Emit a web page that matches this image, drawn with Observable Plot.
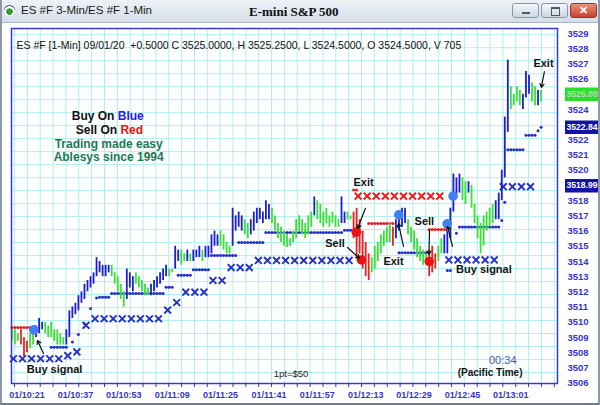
<!DOCTYPE html>
<html>
<head>
<meta charset="utf-8">
<script src="https://cdn.jsdelivr.net/npm/d3@7"></script>
<script src="https://cdn.jsdelivr.net/npm/@observablehq/plot@0.6"></script>
<style>
  body { margin: 0; background: #fff; overflow: hidden; }
  #wrap { position: relative; width: 600px; height: 405px; overflow: hidden; font-family: "Liberation Sans", Arial, sans-serif; background: #fff; }
  #chart { position: absolute; left: 0; top: 0; }
  #titlebar { position: absolute; left: 0; top: 0; width: 600px; height: 23px; box-sizing: border-box;
    background: linear-gradient(#eef2f7, #d5dee9); border-bottom: 1px solid #a9b5c4; }
  #icon { position: absolute; left: 4px; top: 5px; width: 11px; height: 11px; border-radius: 50%;
    background: radial-gradient(circle at 50% 60%, #2f9a3a 0 35%, #ffffff 40% 60%, #556 65%); }
  #t1 { position: absolute; left: 21px; top: 4px; font-size: 11.5px; color: #1a1a1a; font-family: "Liberation Sans", Arial, sans-serif; }
  #t2 { position: absolute; left: 249px; top: 4px; font-size: 13px; font-weight: bold; color: #111; font-family: "Liberation Serif", "Times New Roman", serif; }
  .btn { position: absolute; top: 3px; height: 15px; border-radius: 3px; box-sizing: border-box; }
  #bmin { left: 512px; width: 27px; background: linear-gradient(#f4f7fb, #cdd7e3); border: 1px solid #8897aa; }
  #bmax { left: 541px; width: 27px; background: linear-gradient(#f4f7fb, #cdd7e3); border: 1px solid #8897aa; }
  #bcls { left: 570px; width: 27px; background: linear-gradient(#e8917f, #c8412f); border: 1px solid #8a3a2c; color: #fff; font-weight: bold; font-size: 11px; text-align: center; line-height: 13px; }
  #bmin::after { content: ""; position: absolute; left: 9px; top: 8px; width: 8px; height: 2px; background: #556; }
  #bmax::after { content: ""; position: absolute; left: 9px; top: 3px; width: 7px; height: 6px; border: 1px solid #556; border-top-width: 2px; }
  #frameborder { position: absolute; left: 0; top: 0; width: 600px; height: 405px; box-sizing: border-box;
    border-left: 2px solid #8d99a8; border-right: 2px solid #8d99a8; border-bottom: 2px solid #6f7b8a; pointer-events: none; }
</style>
</head>
<body>
<div id="wrap">
  <div id="chart"></div>
  <div id="titlebar">
    <div id="icon"></div>
    <span id="t1">ES #F 3-Min/ES #F 1-Min</span>
    <span id="t2">E-mini S&amp;P 500</span>
    <div class="btn" id="bmin"></div>
    <div class="btn" id="bmax"></div>
    <div class="btn" id="bcls">✕</div>
  </div>
  <div id="frameborder"></div>
</div>
<script>
// ---------- DATA ----------
// 1-minute bars, first bar at minute 16 past 10:00
const barStart = 16;
const barHigh = [
  3509.5, 3509.5, 3509.25, 3509.5, 3509.0, 3508.75, 3509.25, 3509.5, 3509.75, 3510.25,
  3510.0, 3510.0, 3509.75, 3510.0, 3509.5, 3509.5, 3509.25, 3509.0, 3509.5, 3510.75,
  3511.0, 3511.25, 3511.75, 3512.0, 3512.5, 3512.75, 3513.0, 3513.25, 3514.25, 3514.0,
  3513.75, 3513.75, 3513.75, 3513.75, 3513.25, 3513.0, 3512.5, 3512.0, 3513.5, 3513.25,
  3513.0, 3513.25, 3513.0, 3512.75, 3512.5, 3512.25, 3512.5, 3512.75, 3513.0, 3513.25,
  3513.5, 3513.75, 3513.5, 3513.5, 3515.0, 3514.75, 3514.75, 3514.5, 3514.75, 3514.5,
  3514.75, 3514.75, 3515.0, 3514.75, 3515.0, 3515.0, 3515.75, 3516.0, 3515.75, 3516.0,
  3515.75, 3515.25, 3515.0, 3517.5, 3517.0, 3517.25, 3517.0, 3516.75, 3516.5, 3516.75,
  3517.25, 3517.5, 3517.5, 3517.25, 3518.0, 3517.75, 3517.5, 3517.0, 3516.5, 3516.25,
  3516.0, 3515.75, 3515.5, 3516.0, 3516.75, 3517.0, 3516.75, 3516.5, 3517.0, 3517.25,
  3518.25, 3518.0, 3517.75, 3517.25, 3517.5, 3517.0, 3517.25, 3517.0, 3516.75, 3518.25,
  3517.25, 3517.25, 3517.0, 3517.25, 3517.5, 3516.75, 3516.0, 3515.25, 3514.5, 3514.25,
  3515.0, 3515.25, 3515.75, 3516.0, 3516.25, 3516.5, 3516.25, 3516.75, 3517.25, 3517.5,
  3517.5, 3516.75, 3516.25, 3516.0, 3515.5, 3515.0, 3514.75, 3514.5, 3514.75, 3515.0,
  3514.5, 3515.0, 3515.5, 3515.75, 3516.0, 3517.5, 3519.75, 3519.5, 3519.75, 3519.5,
  3519.25, 3519.25, 3519.0, 3517.75, 3517.0, 3516.5, 3517.0, 3517.25, 3517.5, 3517.75,
  3518.0, 3518.5, 3520.0, 3523.5, 3527.25, 3525.5, 3525.0, 3525.5, 3525.25, 3525.0,
  3526.5, 3526.25, 3525.75, 3525.5, 3525.25, 3525.25
];
const barLow = [
  3508.75, 3508.5, 3508.75, 3508.5, 3507.75, 3508.0, 3508.25, 3508.5, 3509.0, 3509.25,
  3509.5, 3509.25, 3509.0, 3509.0, 3508.75, 3508.5, 3508.5, 3508.5, 3508.5, 3509.0,
  3510.25, 3510.5, 3510.75, 3511.25, 3511.5, 3512.0, 3512.25, 3512.5, 3513.0, 3513.25,
  3513.0, 3513.0, 3513.25, 3513.0, 3512.5, 3512.0, 3511.5, 3511.0, 3511.5, 3512.25,
  3512.0, 3512.5, 3512.25, 3512.0, 3511.75, 3511.75, 3511.75, 3512.0, 3512.25, 3512.5,
  3512.75, 3513.0, 3513.0, 3513.25, 3513.5, 3514.0, 3513.75, 3514.0, 3514.0, 3514.0,
  3514.0, 3514.25, 3514.25, 3514.0, 3514.25, 3514.25, 3514.5, 3515.0, 3515.0, 3515.0,
  3514.75, 3514.5, 3514.5, 3515.0, 3516.0, 3516.25, 3516.0, 3515.75, 3515.5, 3515.75,
  3516.0, 3516.5, 3516.75, 3516.5, 3516.75, 3516.75, 3516.5, 3516.0, 3515.5, 3515.25,
  3515.0, 3514.9, 3515.0, 3515.25, 3515.5, 3516.0, 3515.75, 3515.5, 3515.75, 3516.25,
  3517.0, 3516.75, 3516.5, 3516.25, 3516.5, 3516.25, 3516.5, 3516.25, 3516.25, 3516.5,
  3516.5, 3516.75, 3516.75, 3515.5, 3514.25, 3514.5, 3513.5, 3513.0, 3512.75, 3513.25,
  3513.5, 3514.0, 3514.5, 3515.0, 3515.25, 3515.25, 3515.0, 3515.5, 3516.0, 3516.25,
  3516.5, 3515.75, 3515.25, 3514.75, 3514.25, 3514.0, 3513.75, 3513.75, 3513.0, 3513.25,
  3513.5, 3514.0, 3514.5, 3514.5, 3514.5, 3515.5, 3517.25, 3518.25, 3518.5, 3518.0,
  3517.75, 3518.5, 3517.5, 3516.5, 3515.5, 3514.5, 3515.0, 3516.0, 3516.25, 3516.5,
  3516.75, 3516.75, 3518.0, 3519.5, 3522.5, 3524.0, 3524.25, 3524.5, 3524.25, 3524.0,
  3524.75, 3525.0, 3524.5, 3524.25, 3524.25, 3524.5
];
// b = blue (up), g = green, r = red
const barColor =
  "gggrrrggbb" + "bgggggggbb" + "bbbbbbbbbb" + "bbbgggggbb" + "bgggggbbbb" +
  "bbggbbggbg" + "bbbgbbbbbg" + "gggbbbbggb" + "bbbbbbgggg" + "gggggggggg" +
  "bggggggggb" + "bggrrrrrrg" + "ggggggrbbb" + "bgggggggrr" + "rggbbbbbbg" +
  "gbgggggggg" + "bbbbbggggb" + "bbggbg";

// Trailing stop (1-min dots): [fromMinute, toMinute, price]
const blueDotStops = [
  [29, 34, 3508.35], [36, 36, 3508.7], [38, 38, 3509.2], [40, 40, 3509.9], [42, 42, 3510.9],
  [44, 44, 3511.6], [45, 48, 3511.65], [49, 66, 3511.9], [67, 69, 3512.3], [71, 75, 3513.1],
  [76, 81, 3513.45], [82, 90, 3514.4], [91, 99, 3515.25], [100, 125, 3515.9], [126, 128, 3516.05],
  [144, 153, 3514.57], [160, 161, 3513.4], [163, 163, 3515.85], [164, 177, 3516.26],
  [178, 178, 3516.7], [179, 179, 3517.9], [180, 185, 3521.35], [186, 189, 3522.3],
  [190, 190, 3522.6], [191, 191, 3522.84]
];
const redDotStops = [
  [16, 23, 3509.65], [129, 130, 3518.7], [134, 142, 3516.5], [154, 159, 3516.1]
];
// 3-min stop (X marks): [fromMinute, toMinute, price], one mark every 3 minutes
const blueXStops = [
  [16.5, 31.5, 3507.6], [34.5, 34.5, 3507.8], [37.5, 37.5, 3508.05], [40.5, 40.5, 3509.8],
  [43.5, 64.5, 3510.23], [67.5, 67.5, 3510.8], [70.5, 70.5, 3511.3], [73.5, 79.5, 3511.98],
  [82.5, 85.5, 3512.75], [88.5, 94.5, 3513.6], [97.5, 127.5, 3514.07],
  [160.5, 175.5, 3514.1], [178.5, 187.5, 3518.92]
];
const redXStops = [[130.5, 157.5, 3518.3]];

// Signal dots
const sigMinute = [23.25, 129.9, 131.6, 143.95, 154.0, 159.95, 161.9];
const sigPrice  = [3509.5, 3515.93, 3514.1, 3517.07, 3514.0, 3516.48, 3518.3];
const sigSide   = ["buy", "sell", "sell", "buy", "sell", "buy", "buy"];

// Annotations
const noteText   = ["Buy signal", "Exit", "Sell", "Exit", "Sell", "Buy signal", "Exit"];
const noteMinute = [30.1, 132.3, 122.85, 142.2, 152.4, 172.1, 191.8];
const notePrice  = [3506.9, 3519.2, 3515.2, 3514.0, 3516.6, 3513.47, 3527.0];
const arrows = [ // [fromMinute, fromPrice, toMinute, toPrice]
  [26.46, 3507.95, 24.47, 3508.8], [132.9, 3517.49, 130.3, 3516.17], [126.98, 3514.92, 130.95, 3514.2],
  [145.5, 3514.99, 143.84, 3516.5], [154.1, 3516.04, 153.9, 3514.46], [161.7, 3514.99, 160.06, 3516.3],
  [192.1, 3526.5, 191.1, 3525.45]
];

// Axis labels
const timeMinutes = [21, 37, 53, 69, 85, 101, 117, 133, 149, 165, 181];
const timeLabels = ["01/10:21", "01/10:37", "01/10:53", "01/11:09", "01/11:25", "01/11:41",
                    "01/11:57", "01/12:13", "01/12:29", "01/12:45", "01/13:01"];
const priceLabels = [3506, 3507, 3508, 3509, 3510, 3511, 3512, 3513, 3514, 3515, 3516, 3517,
                     3518, 3520, 3521, 3522, 3524, 3526, 3527, 3528, 3529];
const lastValues = [3525.00, 3522.84, 3518.99];
const lastLabels = ["3525.00", "3522.84", "3518.99"];
const lastKinds = ["close", "stop", "stop"];

const infoLine = "ES #F [1-Min] 09/01/20  +0.5000 C 3525.0000, H 3525.2500, L 3524.5000, O 3524.5000, V 705";

// ---------- BUILD ----------
const colorOf = {b: "#1d1dd2", g: "#35e335", r: "#ee2020"};
const bars = barHigh.map((h, i) => ({m: barStart + i, hi: h, lo: barLow[i], c: colorOf[barColor[i]]}));

function expand(runs, step, color) {
  const out = [];
  for (const [a, b, p] of runs) for (let m = a; m <= b + 1e-9; m += step) out.push({m, p, c: color});
  return out;
}
const BLUE = "#2430cc", RED = "#ee1c1c";
const dotPts = [...expand(blueDotStops, 1, BLUE), ...expand(redDotStops, 1, RED)];
const dotRuns = [...blueDotStops.map(r => ({a: r[0], b: r[1], p: r[2], c: BLUE})),
                 ...redDotStops.map(r => ({a: r[0], b: r[1], p: r[2], c: RED}))];
const xPts = [...expand(blueXStops, 3, BLUE), ...expand(redXStops, 3, RED)];
const sigs = sigMinute.map((m, i) => ({m, p: sigPrice[i], c: sigSide[i] === "buy" ? "#3f80f2" : "#ee1111"}));
const notes = noteText.map((t, i) => ({t, m: noteMinute[i], p: notePrice[i]}));
const arrowData = arrows.map(a => ({x1: a[0], y1: a[1], x2: a[2], y2: a[3]}));
const boxes = lastValues.map((v, i) => ({p: v, label: lastLabels[i],
  bg: lastKinds[i] === "close" ? "#27e027" : "#1212a6", fg: lastKinds[i] === "close" ? "#c4d4c0" : "#ffffff"}));

const xDomain = [15.87, 196.43];
const yDomain = [3505.97, 3529.33];
const gridXTicks = d3.range(16.87, 196.4, 4.25);
const gridYTicks = d3.range(3506.69, 3529.3, 0.855);
const labelMap = new Map(timeMinutes.map((m, i) => [m, timeLabels[i]]));

const AX = "#3535c8";
const font = "Liberation Sans, Arial, sans-serif";

const chart = Plot.plot({
  width: 600, height: 405,
  marginLeft: 11, marginRight: 43, marginTop: 28, marginBottom: 22,
  style: {background: "white", fontFamily: font, overflow: "hidden"},
  x: {domain: xDomain, axis: null},
  y: {domain: yDomain, axis: null},
  color: {type: "identity"},
  marks: [
    Plot.gridX(gridXTicks, {stroke: "#aeeef2", strokeOpacity: 1, strokeWidth: 1}),
    Plot.gridY(gridYTicks, {stroke: "#aeeef2", strokeOpacity: 1, strokeWidth: 1}),
    Plot.axisX(gridXTicks, {anchor: "bottom", tickSize: 4, stroke: AX, tickFormat: () => ""}),
    Plot.axisX(timeMinutes, {anchor: "bottom", tickSize: 0, tickPadding: 8, tickFormat: d => labelMap.get(d),
      fill: AX, fontWeight: "bold", fontSize: 9}),
    Plot.axisY(priceLabels, {anchor: "right", tickSize: 0, tickPadding: 10, textAnchor: "start",
      tickFormat: d => String(d), fill: AX, fontWeight: "bold", fontSize: 9.5}),
    Plot.tickY(boxes, {y: "p", stroke: "bg", strokeWidth: 13.5, dx: 554}),
    Plot.text(boxes, {y: "p", text: "label", frameAnchor: "right", dx: 9, textAnchor: "start",
      fill: "fg", fontWeight: "bold", fontSize: 8.6}),
    // info line
    Plot.text([infoLine], {frameAnchor: "top-left", dx: 5, dy: 13, textAnchor: "start", fill: "#111", fontSize: 10.5}),
    // legend text block
    Plot.text(["Buy On "], {x: 51.0, y: 3523.54, textAnchor: "end", fontWeight: "bold", fontSize: 12, fill: "#111"}),
    Plot.text(["Blue"], {x: 51.0, y: 3523.54, textAnchor: "start", fontWeight: "bold", fontSize: 12, fill: "#2020ee"}),
    Plot.text(["Sell On "], {x: 51.9, y: 3522.62, textAnchor: "end", fontWeight: "bold", fontSize: 12, fill: "#111"}),
    Plot.text(["Red"], {x: 51.9, y: 3522.62, textAnchor: "start", fontWeight: "bold", fontSize: 12, fill: "#ee1111"}),
    Plot.text(["Trading made easy"], {x: 48.0, y: 3521.73, fontWeight: "bold", fontSize: 12, fill: "#1c7a55"}),
    Plot.text(["Ablesys since 1994"], {x: 48.0, y: 3520.84, fontWeight: "bold", fontSize: 12, fill: "#1c7a55"}),
    // stops
    Plot.ruleY(dotRuns, {y: "p", x1: "a", x2: "b", stroke: "c", strokeWidth: 1}),
    Plot.dot(dotPts, {x: "m", y: "p", r: 1.5, fill: "c", stroke: null}),
    Plot.dot(xPts, {x: "m", y: "p", symbol: "times", r: 3.2, stroke: "c", strokeWidth: 1.9}),
    // price bars
    Plot.ruleX(bars, {x: "m", y1: "lo", y2: "hi", stroke: "c", strokeWidth: 1.8}),
    // signals
    Plot.dot(sigs, {x: "m", y: "p", r: 4.8, fill: "c", stroke: null}),
    // annotations
    Plot.arrow(arrowData, {x1: "x1", y1: "y1", x2: "x2", y2: "y2", stroke: "#111", strokeWidth: 1.2, headLength: 5}),
    Plot.text(notes, {x: "m", y: "p", text: "t", fontWeight: "bold", fontSize: 11, fill: "#111"}),
    // footer texts
    Plot.text(["1pt=$50"], {frameAnchor: "bottom", dx: 6.5, dy: -7, fontSize: 9.5, fill: "#222"}),
    Plot.text(["00:34"], {frameAnchor: "bottom-right", dx: -41, dy: -20, fontSize: 11, fill: "#4a58a8"}),
    Plot.text(["(Pacific Time)"], {frameAnchor: "bottom-right", dx: -35, dy: -8, fontSize: 10, fontWeight: "bold", fill: "#111"}),
    Plot.frame({stroke: "#3a3ac8", strokeWidth: 1.5})
  ]
});
document.getElementById("chart").appendChild(chart);
</script>
</body>
</html>
